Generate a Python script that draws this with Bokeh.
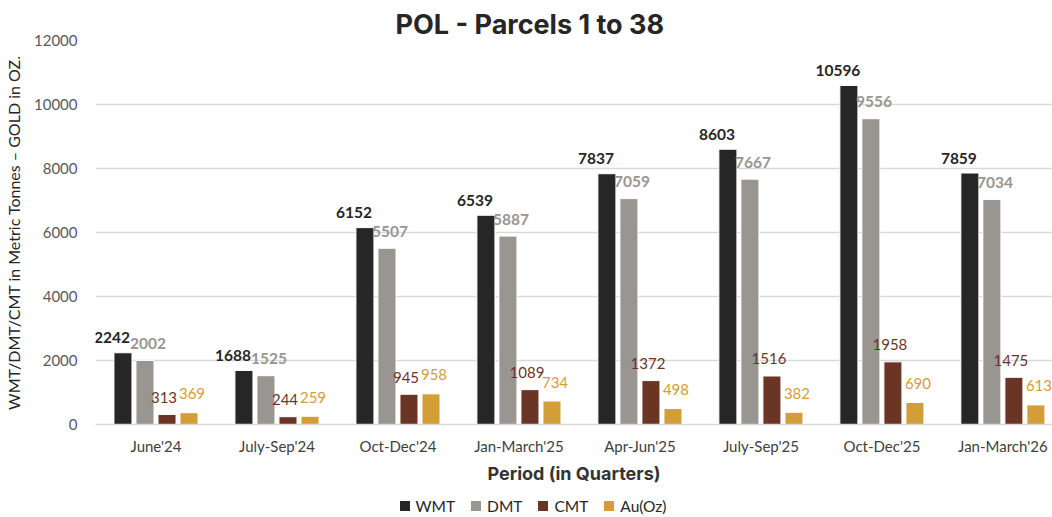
from bokeh.plotting import figure
from bokeh.models import (ColumnDataSource, Range1d, FixedTicker, Div)
from bokeh.layouts import column
from bokeh.transform import dodge
from bokeh.core.properties import value
from bokeh.embed import file_html
from bokeh.resources import INLINE

# ---- data ----
periods = ["June'24", "July-Sep'24", "Oct-Dec'24", "Jan-March'25",
           "Apr-Jun'25", "July-Sep'25", "Oct-Dec'25", "Jan-March'26"]
wmt = [2242, 1688, 6152, 6539, 7837, 8603, 10596, 7859]
dmt = [2002, 1525, 5507, 5887, 7059, 7667, 9556, 7034]
cmt = [313, 244, 945, 1089, 1372, 1516, 1958, 1475]
au = [369, 259, 958, 734, 498, 382, 690, 613]
series_names = ["WMT", "DMT", "CMT", "Au(Oz)"]
y_ticks = [0, 2000, 4000, 6000, 8000, 10000, 12000]

colors = ["#262626", "#999591", "#6b3526", "#d39e37"]
label_colors = ["#262626", "#999591", "#6b3526", "#d39e37"]
label_styles = ["bold", "bold", "normal", "normal"]
bar_offsets = [-0.273, -0.091, 0.091, 0.273]
label_dx = [-11, 3, -3, 3]
label_dy = [-15, -17, -17, -19]
label_sizes = ["15.5px", "15.5px", "15px", "15px"]

idx = list(range(len(periods)))
src = ColumnDataSource(dict(
    x=idx,
    WMT=wmt, DMT=dmt, CMT=cmt, Au=au,
    WMT_t=[str(v) for v in wmt], DMT_t=[str(v) for v in dmt],
    CMT_t=[str(v) for v in cmt], Au_t=[str(v) for v in au],
))
cols = ["WMT", "DMT", "CMT", "Au"]

p = figure(width=1052, height=494, output_backend="svg", toolbar_location=None,
           x_range=Range1d(-0.5, 7.41), y_range=Range1d(0, 12000),
           tools="", min_border_left=95, min_border_right=0,
           min_border_top=40, min_border_bottom=70)

p.title.text = "POL - Parcels 1 to 38"
p.title.align = "left"
p.title.text_font = "Inter"
p.title.text_font_size = "27px"
p.title.text_font_style = "bold"
p.title.text_color = "#262626"
p.title.offset = 300
p.title.standoff = 0

p.outline_line_color = None
p.background_fill_color = "white"
p.border_fill_color = "white"

for i, c in enumerate(cols):
    p.vbar(x=dodge("x", bar_offsets[i], range=p.x_range), top=c, width=0.149,
           source=src, fill_color=colors[i], line_color="white", line_width=1)
    p.text(x=dodge("x", bar_offsets[i], range=p.x_range), y=c, text=c + "_t", source=src,
           x_offset=label_dx[i], y_offset=label_dy[i],
           text_align="center", text_baseline="middle",
           text_font=value("Lato"), text_font_size=label_sizes[i],
           text_font_style=label_styles[i], text_color=label_colors[i])

# axes
p.xaxis.ticker = FixedTicker(ticks=idx)
p.xaxis.major_label_overrides = {i: n for i, n in enumerate(periods)}
p.xaxis.major_tick_line_color = None
p.xaxis.minor_tick_line_color = None
p.xaxis.axis_line_color = "#d9d9d9"
p.xaxis.axis_line_width = 1.5
p.xaxis.major_label_text_font = "Lato"
p.xaxis.major_label_text_font_size = "15px"
p.xaxis.major_label_text_color = "#404040"
p.xaxis.major_label_standoff = 6
p.xaxis.axis_label = "Period (in Quarters)"
p.xaxis.axis_label_text_font = "Inter"
p.xaxis.axis_label_text_font_size = "18px"
p.xaxis.axis_label_text_font_style = "bold"
p.xaxis.axis_label_text_color = "#333333"
p.xaxis.axis_label_standoff = 5

p.yaxis.ticker = FixedTicker(ticks=y_ticks)
p.yaxis.axis_line_color = None
p.yaxis.major_tick_line_color = None
p.yaxis.minor_tick_line_color = None
p.yaxis.major_label_text_font = "Lato"
p.yaxis.major_label_text_font_size = "15px"
p.yaxis.major_label_text_color = "#595959"
p.yaxis.major_label_standoff = 12
p.yaxis.axis_label = "WMT/DMT/CMT in Metric Tonnes \u2013 GOLD in OZ."
p.yaxis.axis_label_text_font = "Lato"
p.yaxis.axis_label_text_font_size = "16px"
p.yaxis.axis_label_text_font_style = "normal"
p.yaxis.axis_label_text_color = "#262626"
p.yaxis.axis_label_standoff = 8

p.xgrid.grid_line_color = None
p.ygrid.grid_line_color = "#d9d9d9"
p.ygrid.grid_line_width = 1.5

# legend (HTML, real text)
items_html = "".join(
    f'<span style="display:inline-flex;align-items:center;margin:0 8px;">'
    f'<span style="display:inline-block;width:10px;height:10px;background:{c};margin-right:6px;"></span>'
    f'{n}</span>'
    for n, c in zip(series_names, colors))
legend_div = Div(text=f'<div style="width:1052px;text-align:center;padding-left:14px;'
                      f'font-family:Lato;font-size:15.5px;color:#262626;line-height:23px;">'
                      f'{items_html}</div>',
                 width=1052, height=23, margin=0)

layout = column(p, legend_div, spacing=0)
open("out.html", "w").write(file_html(layout, INLINE))
